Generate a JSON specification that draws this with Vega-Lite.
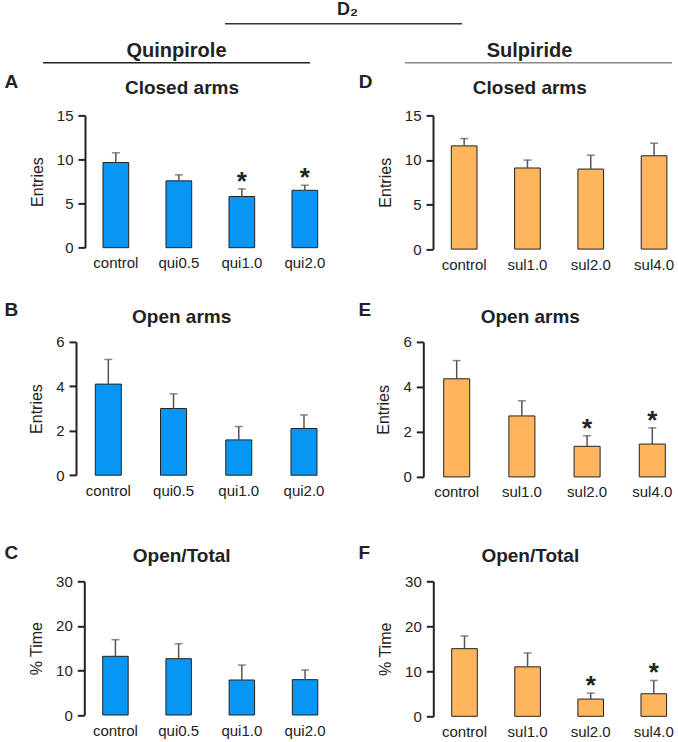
{
  "$schema": "https://vega.github.io/schema/vega-lite/v6.json",
  "padding": {"left": 4, "top": 1, "right": 0, "bottom": 0},
  "background": "white",
  "datasets": {
    "A": [
      {"group": "control", "mean": 9.66, "upper": 10.76, "sig": false},
      {"group": "qui0.5", "mean": 7.58, "upper": 8.26, "sig": false},
      {"group": "qui1.0", "mean": 5.8, "upper": 6.67, "sig": true},
      {"group": "qui2.0", "mean": 6.51, "upper": 7.08, "sig": true}
    ],
    "B": [
      {"group": "control", "mean": 4.1, "upper": 5.21, "sig": false},
      {"group": "qui0.5", "mean": 3.0, "upper": 3.66, "sig": false},
      {"group": "qui1.0", "mean": 1.59, "upper": 2.19, "sig": false},
      {"group": "qui2.0", "mean": 2.1, "upper": 2.71, "sig": false}
    ],
    "C": [
      {"group": "control", "mean": 13.17, "upper": 16.9, "sig": false},
      {"group": "qui0.5", "mean": 12.64, "upper": 16.0, "sig": false},
      {"group": "qui1.0", "mean": 7.85, "upper": 11.2, "sig": false},
      {"group": "qui2.0", "mean": 7.93, "upper": 10.1, "sig": false}
    ],
    "D": [
      {"group": "control", "mean": 11.58, "upper": 12.4, "sig": false},
      {"group": "sul1.0", "mean": 9.1, "upper": 9.99, "sig": false},
      {"group": "sul2.0", "mean": 8.98, "upper": 10.54, "sig": false},
      {"group": "sul4.0", "mean": 10.47, "upper": 11.88, "sig": false}
    ],
    "E": [
      {"group": "control", "mean": 4.36, "upper": 5.17, "sig": false},
      {"group": "sul1.0", "mean": 2.71, "upper": 3.38, "sig": false},
      {"group": "sul2.0", "mean": 1.36, "upper": 1.83, "sig": true},
      {"group": "sul4.0", "mean": 1.46, "upper": 2.18, "sig": true}
    ],
    "F": [
      {"group": "control", "mean": 15.03, "upper": 17.84, "sig": false},
      {"group": "sul1.0", "mean": 10.99, "upper": 14.08, "sig": false},
      {"group": "sul2.0", "mean": 3.83, "upper": 5.16, "sig": true},
      {"group": "sul4.0", "mean": 5.01, "upper": 7.96, "sig": true}
    ]
  },
  "spacing": 14.9,
  "vconcat": [
    {
      "width": 587, "height": 1.5,
      "data": {"values": [{"k": "D₂"}]},
      "title": {"text": "D₂", "fontSize": 18, "dx": -31, "offset": 4},
      "mark": {"type": "bar", "color": "#333"},
      "encoding": {"x": {"field": "k", "type": "nominal", "axis": null, "scale": {"paddingInner": 0, "paddingOuter": 0.7384, "align": 0.4}}}
    },
    {
      "spacing": 8.5,
      "vconcat": [
        {
          "width": 587, "height": 1.5,
          "data": {"values": [{"col": "Quinpirole"}, {"col": "Sulpiride"}]},
          "encoding": {"x": {"field": "col", "type": "nominal", "axis": null, "scale": {"range": [-42, 587], "paddingInner": 0.2624, "paddingOuter": 0}}},
          "layer": [
            {"mark": {"type": "bar"}, "encoding": {"color": {"field": "col", "type": "nominal", "legend": null, "scale": {"domain": ["Quinpirole", "Sulpiride"], "range": ["#222222", "#8a8a8a"]}}}},
            {"transform": [{"filter": "datum.col === 'Quinpirole'"}], "mark": {"type": "text", "fontSize": 20, "fontWeight": "bold", "color": "#222", "baseline": "alphabetic", "dy": -6}, "encoding": {"text": {"field": "col"}}},
            {"transform": [{"filter": "datum.col === 'Sulpiride'"}], "mark": {"type": "text", "fontSize": 20, "fontWeight": "bold", "color": "#222", "baseline": "alphabetic", "dy": -6, "dx": -9}, "encoding": {"text": {"field": "col"}}}
          ]
        },
        {
          "spacing": 27.5,
          "vconcat": [
            {
              "spacing": 22,
              "hconcat": [
                {
                  "width": 250.7, "height": 132.3,
                  "data": {"name": "A"},
                  "title": {"text": "Closed arms", "dx": -28.4, "offset": -25.5},
                  "layer": [
                    {"mark": {"type": "bar", "color": "#0896f5", "stroke": "#222", "strokeWidth": 1},
                     "encoding": {"x": {"field": "group", "type": "nominal", "sort": null, "scale": {"paddingInner": 0.592, "paddingOuter": 0.2857}, "axis": {"orient": "bottom", "title": null, "domain": false, "ticks": false, "labelPadding": 8, "labelAngle": 0}},
                                  "y": {"field": "mean", "type": "quantitative", "title": "Entries", "scale": {"domain": [0, 15]}, "axis": {"values": [0, 5, 10, 15]}}}},
                    {"mark": {"type": "rule", "color": "#555", "strokeWidth": 1.5},
                     "encoding": {"x": {"field": "group", "type": "nominal", "sort": null, "axis": null}, "y": {"field": "mean", "type": "quantitative", "title": "Entries", "scale": {"domain": [0, 15]}}, "y2": {"field": "upper"}}},
                    {"mark": {"type": "tick", "color": "#555", "size": 8, "thickness": 1.5},
                     "encoding": {"x": {"field": "group", "type": "nominal", "sort": null, "axis": {"orient": "top", "title": "A", "domain": false, "ticks": false, "labels": false, "titleX": -81, "titleY": -27.7, "titleAlign": "left", "titleBaseline": "alphabetic", "titleAngle": 0, "titleFontSize": 19, "titleFontWeight": "bold"}},
                                  "y": {"field": "upper", "type": "quantitative", "title": "Entries", "scale": {"domain": [0, 15]}}}},
                    {"transform": [{"filter": "datum.sig"}],
                     "mark": {"type": "text", "text": "*", "fontSize": 26, "fontWeight": "bold", "color": "#222", "baseline": "alphabetic", "dy": 1},
                     "encoding": {"x": {"field": "group", "type": "nominal", "sort": null, "axis": null}, "y": {"field": "upper", "type": "quantitative", "title": "Entries", "scale": {"domain": [0, 15]}}}}
                  ],
                  "resolve": {"axis": {"x": "independent"}}
                },
                {
                  "width": 243, "height": 133.7,
                  "data": {"name": "D"},
                  "title": {"text": "Closed arms", "dx": -24.7, "offset": -25.5},
                  "layer": [
                    {"mark": {"type": "bar", "color": "#ffb45e", "stroke": "#222", "strokeWidth": 1},
                     "encoding": {"x": {"field": "group", "type": "nominal", "sort": null, "scale": {"paddingInner": 0.594, "paddingOuter": 0.2164, "align": 0.668}, "axis": {"orient": "bottom", "title": null, "domain": false, "ticks": false, "labelPadding": 8, "labelAngle": 0}},
                                  "y": {"field": "mean", "type": "quantitative", "title": "Entries", "scale": {"domain": [0, 15]}, "axis": {"values": [0, 5, 10, 15]}}}},
                    {"mark": {"type": "rule", "color": "#555", "strokeWidth": 1.5},
                     "encoding": {"x": {"field": "group", "type": "nominal", "sort": null, "axis": null}, "y": {"field": "mean", "type": "quantitative", "title": "Entries", "scale": {"domain": [0, 15]}}, "y2": {"field": "upper"}}},
                    {"mark": {"type": "tick", "color": "#555", "size": 8, "thickness": 1.5},
                     "encoding": {"x": {"field": "group", "type": "nominal", "sort": null, "axis": {"orient": "top", "title": "D", "domain": false, "ticks": false, "labels": false, "titleX": -74.7, "titleY": -27.7, "titleAlign": "left", "titleBaseline": "alphabetic", "titleAngle": 0, "titleFontSize": 19, "titleFontWeight": "bold"}},
                                  "y": {"field": "upper", "type": "quantitative", "title": "Entries", "scale": {"domain": [0, 15]}}}},
                    {"transform": [{"filter": "datum.sig"}],
                     "mark": {"type": "text", "text": "*", "fontSize": 26, "fontWeight": "bold", "color": "#222", "baseline": "alphabetic", "dy": 1},
                     "encoding": {"x": {"field": "group", "type": "nominal", "sort": null, "axis": null}, "y": {"field": "upper", "type": "quantitative", "title": "Entries", "scale": {"domain": [0, 15]}}}}
                  ],
                  "resolve": {"axis": {"x": "independent"}}
                }
              ]
            },
            {
              "spacing": 43.4,
              "vconcat": [
                {
                  "spacing": 20.3,
                  "hconcat": [
                    {
                      "width": 251.3, "height": 133.3,
                      "data": {"name": "B"},
                      "title": {"text": "Open arms", "dx": -29, "offset": -26.8},
                      "layer": [
                        {"mark": {"type": "bar", "color": "#0896f5", "stroke": "#222", "strokeWidth": 1},
                         "encoding": {"x": {"field": "group", "type": "nominal", "sort": null, "scale": {"paddingInner": 0.601, "paddingOuter": 0.2269, "align": 0.348}, "axis": {"orient": "bottom", "title": null, "domain": false, "ticks": false, "labelPadding": 8, "labelAngle": 0}},
                                      "y": {"field": "mean", "type": "quantitative", "title": "Entries", "scale": {"domain": [0, 6]}, "axis": {"values": [0, 2, 4, 6], "offset": 9}}}},
                        {"mark": {"type": "rule", "color": "#555", "strokeWidth": 1.5},
                         "encoding": {"x": {"field": "group", "type": "nominal", "sort": null, "axis": null}, "y": {"field": "mean", "type": "quantitative", "title": "Entries", "scale": {"domain": [0, 6]}}, "y2": {"field": "upper"}}},
                        {"mark": {"type": "tick", "color": "#555", "size": 8, "thickness": 1.5},
                         "encoding": {"x": {"field": "group", "type": "nominal", "sort": null, "axis": {"orient": "top", "title": "B", "domain": false, "ticks": false, "labels": false, "titleX": -81, "titleY": -26.5, "titleAlign": "left", "titleBaseline": "alphabetic", "titleAngle": 0, "titleFontSize": 19, "titleFontWeight": "bold"}},
                                      "y": {"field": "upper", "type": "quantitative", "title": "Entries", "scale": {"domain": [0, 6]}}}},
                        {"transform": [{"filter": "datum.sig"}],
                         "mark": {"type": "text", "text": "*", "fontSize": 26, "fontWeight": "bold", "color": "#222", "baseline": "alphabetic", "dy": 1},
                         "encoding": {"x": {"field": "group", "type": "nominal", "sort": null, "axis": null}, "y": {"field": "upper", "type": "quantitative", "title": "Entries", "scale": {"domain": [0, 6]}}}}
                      ],
                      "resolve": {"axis": {"x": "independent"}}
                    },
                    {
                      "width": 252.4, "height": 135,
                      "data": {"name": "E"},
                      "title": {"text": "Open arms", "dx": -19.2, "offset": -26.8},
                      "layer": [
                        {"mark": {"type": "bar", "color": "#ffb45e", "stroke": "#222", "strokeWidth": 1},
                         "encoding": {"x": {"field": "group", "type": "nominal", "sort": null, "scale": {"paddingInner": 0.601, "paddingOuter": 0.2362, "align": 0.662}, "axis": {"orient": "bottom", "title": null, "domain": false, "ticks": false, "labelPadding": 8, "labelAngle": 0}},
                                      "y": {"field": "mean", "type": "quantitative", "title": "Entries", "scale": {"domain": [0, 6]}, "axis": {"values": [0, 2, 4, 6]}}}},
                        {"mark": {"type": "rule", "color": "#555", "strokeWidth": 1.5},
                         "encoding": {"x": {"field": "group", "type": "nominal", "sort": null, "axis": null}, "y": {"field": "mean", "type": "quantitative", "title": "Entries", "scale": {"domain": [0, 6]}}, "y2": {"field": "upper"}}},
                        {"mark": {"type": "tick", "color": "#555", "size": 8, "thickness": 1.5},
                         "encoding": {"x": {"field": "group", "type": "nominal", "sort": null, "axis": {"orient": "top", "title": "E", "domain": false, "ticks": false, "labels": false, "titleX": -65.3, "titleY": -26.5, "titleAlign": "left", "titleBaseline": "alphabetic", "titleAngle": 0, "titleFontSize": 19, "titleFontWeight": "bold"}},
                                      "y": {"field": "upper", "type": "quantitative", "title": "Entries", "scale": {"domain": [0, 6]}}}},
                        {"transform": [{"filter": "datum.sig"}],
                         "mark": {"type": "text", "text": "*", "fontSize": 26, "fontWeight": "bold", "color": "#222", "baseline": "alphabetic", "dy": 1},
                         "encoding": {"x": {"field": "group", "type": "nominal", "sort": null, "axis": null}, "y": {"field": "upper", "type": "quantitative", "title": "Entries", "scale": {"domain": [0, 6]}}}}
                      ],
                      "resolve": {"axis": {"x": "independent"}}
                    }
                  ]
                },
                {
                  "spacing": 20.3,
                  "hconcat": [
                    {
                      "width": 251.2, "height": 133.7,
                      "data": {"name": "C"},
                      "title": {"text": "Open/Total", "dx": -28.9, "offset": -22.2},
                      "layer": [
                        {"mark": {"type": "bar", "color": "#0896f5", "stroke": "#222", "strokeWidth": 1},
                         "encoding": {"x": {"field": "group", "type": "nominal", "sort": null, "scale": {"paddingInner": 0.597, "paddingOuter": 0.2856, "align": 0.49}, "axis": {"orient": "bottom", "title": null, "domain": false, "ticks": false, "labelPadding": 8, "labelAngle": 0}},
                                      "y": {"field": "mean", "type": "quantitative", "title": "% Time", "scale": {"domain": [0, 30]}, "axis": {"values": [0, 10, 20, 30], "offset": 0.7}}}},
                        {"mark": {"type": "rule", "color": "#555", "strokeWidth": 1.5},
                         "encoding": {"x": {"field": "group", "type": "nominal", "sort": null, "axis": null}, "y": {"field": "mean", "type": "quantitative", "title": "% Time", "scale": {"domain": [0, 30]}}, "y2": {"field": "upper"}}},
                        {"mark": {"type": "tick", "color": "#555", "size": 8, "thickness": 1.5},
                         "encoding": {"x": {"field": "group", "type": "nominal", "sort": null, "axis": {"orient": "top", "title": "C", "domain": false, "ticks": false, "labels": false, "titleX": -81, "titleY": -22.7, "titleAlign": "left", "titleBaseline": "alphabetic", "titleAngle": 0, "titleFontSize": 19, "titleFontWeight": "bold"}},
                                      "y": {"field": "upper", "type": "quantitative", "title": "% Time", "scale": {"domain": [0, 30]}}}},
                        {"transform": [{"filter": "datum.sig"}],
                         "mark": {"type": "text", "text": "*", "fontSize": 26, "fontWeight": "bold", "color": "#222", "baseline": "alphabetic", "dy": 1},
                         "encoding": {"x": {"field": "group", "type": "nominal", "sort": null, "axis": null}, "y": {"field": "upper", "type": "quantitative", "title": "% Time", "scale": {"domain": [0, 30]}}}}
                      ],
                      "resolve": {"axis": {"x": "independent"}}
                    },
                    {
                      "width": 242.4, "height": 135,
                      "data": {"name": "F"},
                      "title": {"text": "Open/Total", "dx": -24.2, "offset": -22.2},
                      "layer": [
                        {"mark": {"type": "bar", "color": "#ffb45e", "stroke": "#222", "strokeWidth": 1},
                         "encoding": {"x": {"field": "group", "type": "nominal", "sort": null, "scale": {"paddingInner": 0.594, "paddingOuter": 0.2179, "align": 0.669}, "axis": {"orient": "bottom", "title": null, "domain": false, "ticks": false, "labelPadding": 8, "labelAngle": 0}},
                                      "y": {"field": "mean", "type": "quantitative", "title": "% Time", "scale": {"domain": [0, 30]}, "axis": {"values": [0, 10, 20, 30]}}}},
                        {"mark": {"type": "rule", "color": "#555", "strokeWidth": 1.5},
                         "encoding": {"x": {"field": "group", "type": "nominal", "sort": null, "axis": null}, "y": {"field": "mean", "type": "quantitative", "title": "% Time", "scale": {"domain": [0, 30]}}, "y2": {"field": "upper"}}},
                        {"mark": {"type": "tick", "color": "#555", "size": 8, "thickness": 1.5},
                         "encoding": {"x": {"field": "group", "type": "nominal", "sort": null, "axis": {"orient": "top", "title": "F", "domain": false, "ticks": false, "labels": false, "titleX": -75.3, "titleY": -22.7, "titleAlign": "left", "titleBaseline": "alphabetic", "titleAngle": 0, "titleFontSize": 19, "titleFontWeight": "bold"}},
                                      "y": {"field": "upper", "type": "quantitative", "title": "% Time", "scale": {"domain": [0, 30]}}}},
                        {"transform": [{"filter": "datum.sig"}],
                         "mark": {"type": "text", "text": "*", "fontSize": 26, "fontWeight": "bold", "color": "#222", "baseline": "alphabetic", "dy": 1},
                         "encoding": {"x": {"field": "group", "type": "nominal", "sort": null, "axis": null}, "y": {"field": "upper", "type": "quantitative", "title": "% Time", "scale": {"domain": [0, 30]}}}}
                      ],
                      "resolve": {"axis": {"x": "independent"}}
                    }
                  ]
                }
              ]
            }
          ]
        }
      ]
    }
  ],
  "config": {
    "view": {"stroke": null},
    "font": "Liberation Sans",
    "title": {"font": "Liberation Sans", "fontSize": 19, "fontWeight": "bold", "color": "#222", "baseline": "alphabetic", "anchor": "middle", "frame": "group"},
    "axis": {"grid": false, "labelFont": "Liberation Sans", "labelFontSize": 15, "labelColor": "#222", "titleFont": "Liberation Sans", "titleFontSize": 16, "titleFontWeight": "normal", "titleColor": "#222"},
    "axisY": {"domainColor": "#222", "domainWidth": 2, "tickColor": "#222", "tickWidth": 2, "tickSize": 7, "labelPadding": 5, "titlePadding": 11}
  }
}
